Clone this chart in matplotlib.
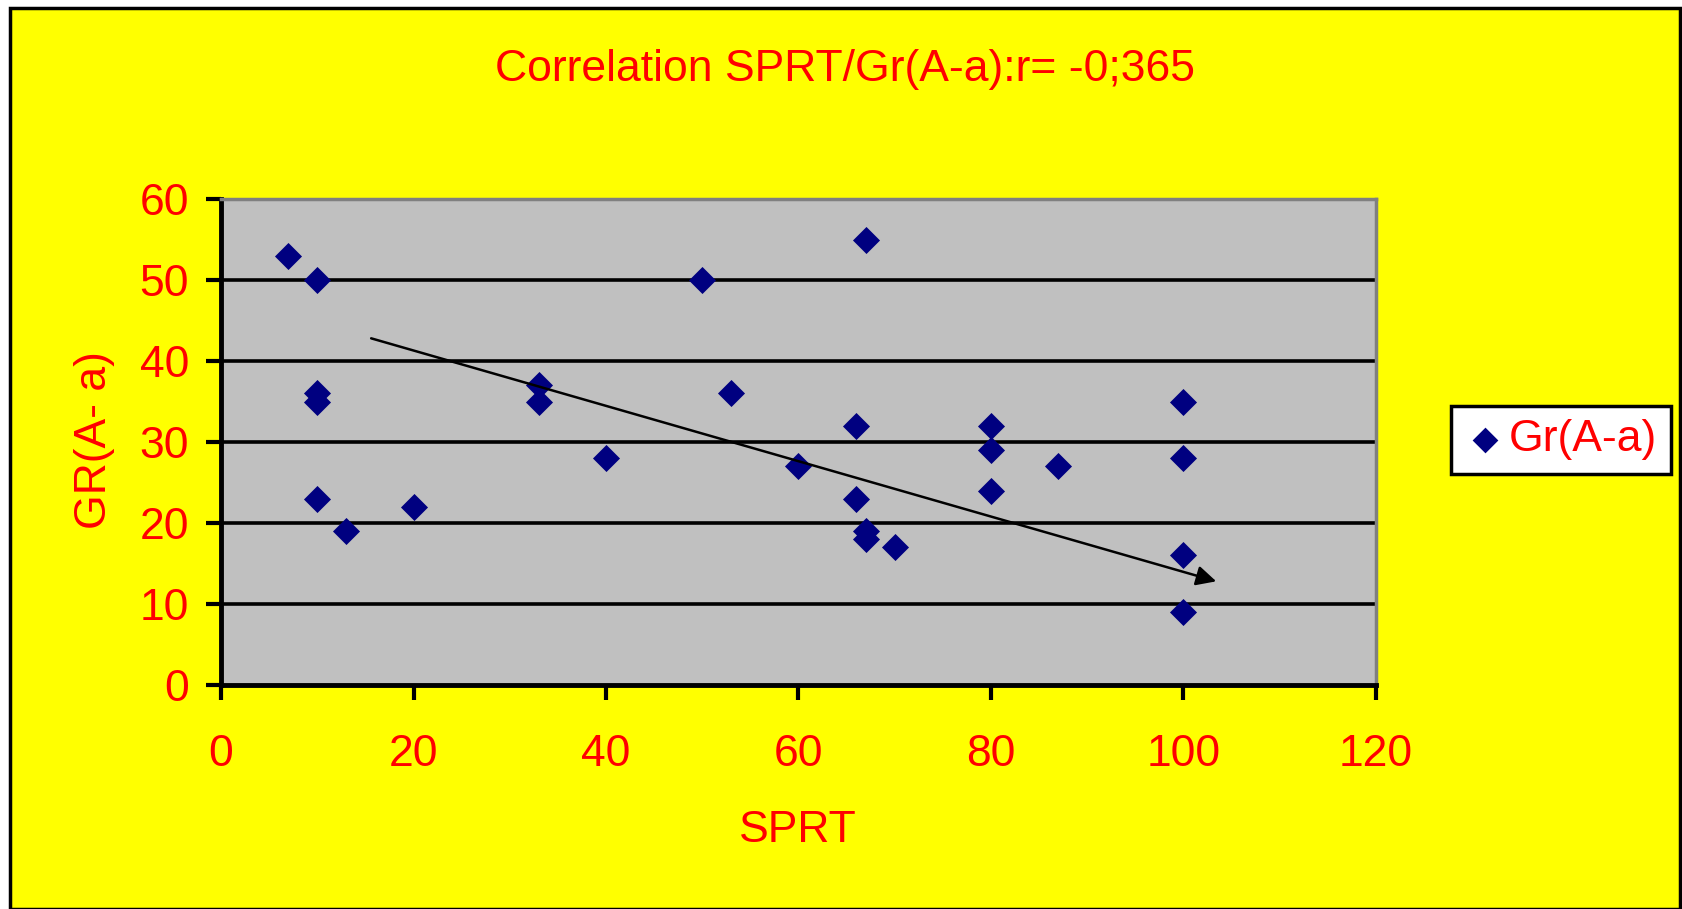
import matplotlib.pyplot as plt
from matplotlib.patches import Rectangle

# data
sprt = [7, 10, 10, 10, 10, 13, 20, 33, 33, 40, 50, 53, 60, 66, 67, 66, 67, 67,
        70, 80, 80, 80, 87, 100, 100, 100, 100]
gr = [53, 50, 36, 35, 23, 19, 22, 37, 35, 28, 50, 36, 27, 32, 55, 23, 19, 18,
      17, 32, 29, 24, 27, 35, 28, 16, 9]

# trend arrow drawn by hand in the original
arrow_start = (15.6, 42.8)
arrow_end = (103.4, 12.8)

xticks = [0, 20, 40, 60, 80, 100, 120]
yticks = [0, 10, 20, 30, 40, 50, 60]

plt.rcParams['font.family'] = ['Liberation Sans', 'DejaVu Sans']
FS = 32

fig = plt.figure(figsize=(16.83, 9.09), dpi=100)
fig.patch.set_facecolor('white')
fig.patches.append(Rectangle((10 / 1683, 0), 1670 / 1683, 1 - 8 / 909,
                             transform=fig.transFigure, facecolor='#FFFF00',
                             edgecolor='black', linewidth=2.5, zorder=-10))

ax = fig.add_axes([221 / 1683, 1 - 685 / 909, 1155 / 1683, 486 / 909])
ax.set_facecolor('#C0C0C0')

for y in yticks[1:-1]:
    ax.axhline(y, color='black', lw=2.6, zorder=1)

ax.scatter(sprt, gr, marker='D', s=190, color='#000080', zorder=3,
           label='Gr(A-a)', linewidths=0)

ax.annotate('', xy=arrow_end, xytext=arrow_start,
            arrowprops=dict(arrowstyle='-|>', color='black', lw=1.8,
                            mutation_scale=30, shrinkA=0, shrinkB=0), zorder=4)

ax.set_xlim(0, 120)
ax.set_ylim(0, 60)
ax.set_xticks(xticks)
ax.set_yticks(yticks)
ax.tick_params(axis='both', direction='out', length=11, width=3, color='black',
               labelcolor='red', labelsize=FS)
ax.tick_params(axis='x', pad=24)
ax.tick_params(axis='y', pad=12)

for side in ['left', 'bottom']:
    ax.spines[side].set_color('black')
    ax.spines[side].set_linewidth(3.5)
for side in ['top', 'right']:
    ax.spines[side].set_color('#808080')
    ax.spines[side].set_linewidth(2.5)

fig.text(845 / 1683, 1 - 69 / 909, 'Correlation SPRT/Gr(A-a):r= -0;365',
         color='red', fontsize=FS, ha='center', va='center')
fig.text(798 / 1683, 1 - 831 / 909, 'SPRT', color='red', fontsize=FS,
         ha='center', va='center')
fig.text(95 / 1683, 1 - 440 / 909, 'GR(A- a)', color='red', fontsize=FS,
         ha='center', va='center', rotation=90)

leg = ax.legend(loc='center', bbox_to_anchor=(1561 / 1683, 1 - 440 / 909),
                bbox_transform=fig.transFigure, fontsize=FS, frameon=True,
                fancybox=False, handletextpad=0.1, handlelength=0.9,
                borderpad=0.3, borderaxespad=0, labelcolor='red',
                markerscale=0.95)
leg.get_frame().set_edgecolor('black')
leg.get_frame().set_linewidth(2.5)
leg.get_frame().set_facecolor('white')
leg.get_frame().set_alpha(1)

fig.savefig('out.png', dpi=100, facecolor=fig.get_facecolor())
